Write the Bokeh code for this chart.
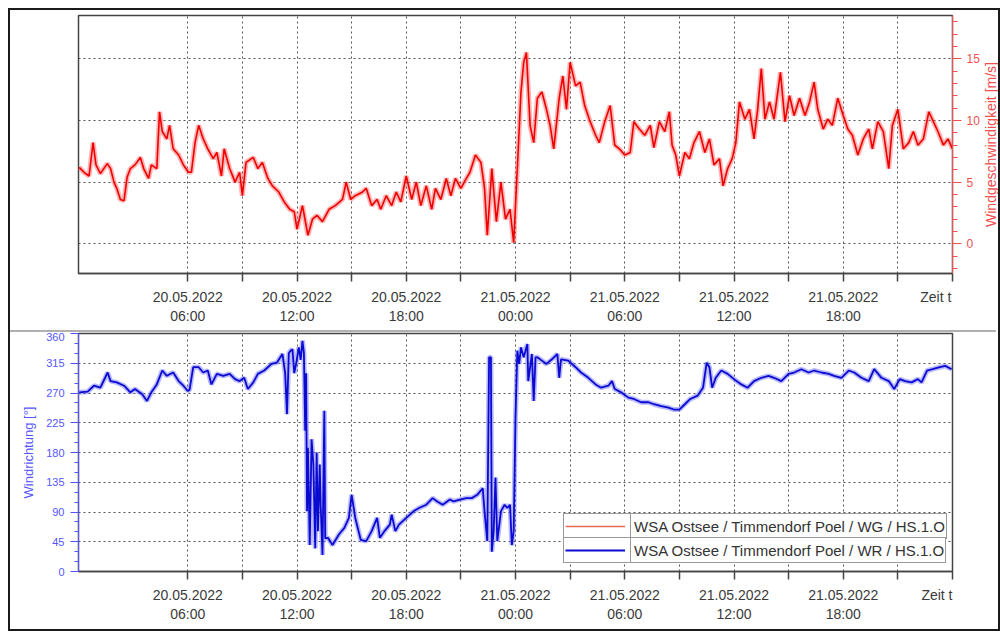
import math
from bokeh.plotting import figure
from bokeh.models import Range1d, FixedTicker, Legend, LegendItem, ColumnDataSource, Div, Label
from bokeh.layouts import column, row
from bokeh.embed import file_html
from bokeh.resources import INLINE

# ---- data (hours since 20.05.2022 00:00) ----
wg_hours = [0.04, 0.3, 0.58, 0.8, 0.96, 1.2, 1.58, 1.76, 1.95, 2.1, 2.3, 2.5, 2.67, 2.85, 3.1, 3.4, 3.58, 3.85,
            4.0, 4.3, 4.45, 4.6, 4.85, 5.0, 5.2, 5.5, 5.76, 6.04, 6.2, 6.4, 6.6, 6.85, 7.1, 7.4, 7.6, 7.85,
            8.0, 8.3, 8.6, 8.85, 9.0, 9.2, 9.6, 9.85, 10.1, 10.4, 10.65, 11.0, 11.3, 11.6, 11.85, 12.0, 12.3,
            12.6, 12.85, 13.1, 13.4, 13.76, 14.1, 14.5, 14.7, 14.95, 15.2, 15.6, 15.8, 16.1, 16.4, 16.6, 16.9,
            17.2, 17.45, 17.7, 18.0, 18.3, 18.55, 18.8, 19.1, 19.4, 19.6, 19.9, 20.2, 20.45, 20.7, 21.0, 21.3,
            21.5, 21.8, 22.1, 22.3, 22.45, 22.7, 22.95, 23.2, 23.45, 23.7, 23.9, 24.1, 24.3, 24.45, 24.6, 24.8,
            25.0, 25.2, 25.45, 25.7, 25.9, 26.1, 26.4, 26.6, 26.8, 27.0, 27.3, 27.55, 27.8, 28.1, 28.4, 28.6,
            28.9, 29.2, 29.45, 29.7, 30.0, 30.3, 30.5, 30.8, 31.1, 31.4, 31.6, 31.9, 32.2, 32.45, 32.6, 32.8,
            33.0, 33.3, 33.55, 33.8, 34.1, 34.4, 34.65, 34.9, 35.2, 35.4, 35.65, 35.9, 36.1, 36.3, 36.6, 36.85,
            37.1, 37.3, 37.5, 37.7, 37.95, 38.2, 38.55, 38.8, 39.05, 39.3, 39.6, 39.9, 40.15, 40.4, 40.6, 40.9,
            41.15, 41.4, 41.7, 42.0, 42.25, 42.5, 42.8, 43.1, 43.4, 43.6, 43.9, 44.2, 44.5, 44.7, 45.0, 45.3,
            45.6, 45.85, 46.1, 46.4, 46.7, 46.95, 47.2, 47.5, 47.75, 48.0]
wg_speed = [6.2, 5.8, 5.5, 8.2, 6.4, 5.7, 6.5, 6.1, 5.0, 4.5, 3.6, 3.5, 5.4, 6.1, 6.4, 7.0, 6.1, 5.3,
            6.4, 6.1, 10.7, 9.1, 8.5, 9.6, 7.7, 7.2, 6.4, 5.8, 5.8, 8.2, 9.6, 8.5, 7.7, 6.9, 7.4, 5.5,
            7.7, 6.1, 5.0, 5.8, 3.9, 6.6, 7.0, 6.1, 6.6, 5.3, 4.7, 4.2, 3.4, 2.8, 2.6, 1.2, 3.1,
            0.7, 2.0, 2.3, 1.8, 2.8, 3.1, 3.6, 5.0, 3.6, 3.9, 4.2, 4.5, 3.1, 3.6, 2.8, 3.9,
            3.1, 4.2, 3.4, 5.5, 3.6, 5.0, 3.1, 4.7, 2.8, 4.5, 3.6, 5.3, 3.9, 5.3, 4.5, 5.3,
            5.8, 7.2, 6.6, 4.5, 0.7, 6.1, 1.8, 5.0, 2.0, 2.8, 0.1, 6.1, 12.3, 14.7, 15.5, 9.6,
            8.2, 11.8, 12.3, 10.9, 9.6, 7.7, 11.8, 13.6, 10.9, 14.7, 12.8, 13.1, 11.2, 9.9, 8.8, 8.2,
            9.9, 11.2, 8.0, 7.7, 7.2, 7.4, 9.9, 9.3, 8.8, 9.6, 7.8, 9.9, 9.1, 10.7, 8.0, 7.2,
            5.5, 7.4, 6.9, 8.2, 9.1, 7.4, 8.5, 6.4, 6.9, 4.7, 6.1, 6.9, 8.2, 11.5, 10.1, 10.9,
            8.5, 10.9, 14.2, 10.1, 11.5, 10.1, 13.9, 9.9, 12.0, 10.4, 11.8, 10.4, 11.5, 13.1, 10.9, 9.3,
            10.1, 9.6, 11.8, 10.4, 9.3, 8.8, 7.2, 8.5, 9.3, 7.7, 9.9, 9.1, 6.1, 9.6, 10.9, 7.7,
            8.2, 9.1, 8.0, 8.5, 10.7, 9.9, 9.1, 8.0, 8.5, 7.7]

wr_hours = [0.04, 0.5, 0.85, 1.2, 1.6, 1.76, 2.1, 2.5, 2.85, 3.1, 3.5, 3.76, 4.0, 4.3, 4.6, 4.85, 5.2, 5.5,
            5.76, 6.0, 6.1, 6.3, 6.6, 6.85, 7.1, 7.3, 7.6, 7.95, 8.3, 8.6, 8.85, 9.1, 9.3, 9.6, 9.85, 10.2,
            10.6, 10.9, 11.2, 11.35, 11.45, 11.55, 11.65, 11.75, 11.85, 11.95, 12.1, 12.2, 12.3, 12.38, 12.45,
            12.5, 12.55, 12.6, 12.7, 12.8, 12.9, 13.0, 13.08, 13.15, 13.25, 13.3, 13.4, 13.5, 13.55, 13.7,
            13.95, 14.3, 14.6, 14.85, 15.0, 15.2, 15.5, 15.8, 16.1, 16.4, 16.55, 16.8, 17.1, 17.2, 17.4, 17.6,
            18.0, 18.4, 18.7, 19.1, 19.45, 19.7, 20.0, 20.4, 20.6, 21.0, 21.3, 21.6, 21.9, 22.2, 22.3, 22.45,
            22.55, 22.65, 22.7, 22.8, 22.9, 23.0, 23.2, 23.4, 23.55, 23.7, 23.8, 23.9, 24.0, 24.1, 24.2, 24.3,
            24.45, 24.65, 24.7, 24.9, 25.0, 25.1, 25.2, 25.45, 25.7, 26.0, 26.3, 26.4, 26.5, 26.9, 27.3, 27.6,
            28.0, 28.4, 28.7, 29.1, 29.3, 29.45, 29.8, 30.2, 30.5, 30.9, 31.3, 31.6, 32.0, 32.4, 32.7, 33.0,
            33.3, 33.6, 34.0, 34.3, 34.5, 34.65, 34.8, 35.0, 35.3, 35.65, 36.0, 36.4, 36.75, 37.1, 37.5, 37.9,
            38.2, 38.6, 39.0, 39.3, 39.7, 40.1, 40.4, 40.8, 41.2, 41.5, 41.9, 42.3, 42.6, 43.0, 43.4, 43.7,
            44.1, 44.5, 44.8, 45.1, 45.4, 45.75, 46.1, 46.3, 46.6, 46.9, 47.3, 47.6, 47.95]
wr_deg = [271, 272, 281, 278, 301, 288, 286, 281, 271, 276, 268, 258, 271, 283, 304, 296, 301, 288,
          281, 273, 275, 309, 309, 301, 304, 283, 299, 296, 299, 291, 288, 293, 276, 286, 299, 304,
          314, 316, 329, 300, 238, 330, 334, 336, 300, 314, 339, 320, 349, 330, 213,
          300, 91, 187, 40, 200, 162, 35, 180, 61, 162, 100, 25, 243, 50, 51,
          40, 56, 66, 81, 116, 81, 48, 46, 61, 81, 51, 61, 71, 86, 61, 71,
          81, 91, 96, 101, 111, 106, 101, 109, 106, 109, 111, 111, 116, 126, 91, 46,
          324, 324, 30, 61, 142, 46, 91, 101, 96, 101, 40, 61, 233, 334, 314, 339,
          324, 344, 288, 329, 258, 324, 324, 319, 314, 321, 329, 293, 321, 319, 309, 301,
          293, 283, 278, 281, 288, 276, 271, 263, 261, 256, 256, 253, 250, 248, 245, 245,
          253, 261, 266, 278, 316, 309, 278, 293, 304, 299, 291, 283, 278, 288, 293, 296,
          293, 288, 299, 301, 306, 301, 304, 301, 299, 296, 293, 304, 301, 293, 288, 306,
          293, 288, 276, 291, 288, 286, 291, 286, 304, 306, 309, 311, 306]

time_ticks = [6, 9, 12, 15, 18, 21, 24, 27, 30, 33, 36, 39, 42, 45, 48]
time_labels = ["20.05.2022\n06:00", "", "20.05.2022\n12:00", "", "20.05.2022\n18:00", "",
               "21.05.2022\n00:00", "", "21.05.2022\n06:00", "", "21.05.2022\n12:00", "",
               "21.05.2022\n18:00", "", "Zeit t" + "\u00a0" * 8]
speed_ticks = [0, 5, 10, 15]
speed_minor = list(range(-2, 19))
dir_ticks = [0, 45, 90, 135, 180, 225, 270, 315, 360]
dir_minor = list(range(0, 361, 15))

speed_title = "Windgeschwindigkeit [m/s]"
dir_title = "Windrichtung [°]"
label_wg = "WSA Ostsee / Timmendorf Poel / WG / HS.1.O"
label_wr = "WSA Ostsee / Timmendorf Poel / WR / HS.1.O"

FONT = "Liberation Sans"
RED = "#ee0000"
RED_HALO = "#ff5a5a"
RED_AX = "#f05050"
BLUE = "#0a0ad0"
BLUE_HALO = "#5050ff"
BLUE_AX = "#5555ff"
overrides = {t: l for t, l in zip(time_ticks, time_labels)}


def style_x(p):
    ax = p.xaxis[0]
    ax.ticker = FixedTicker(ticks=time_ticks, minor_ticks=[])
    ax.major_label_overrides = overrides
    ax.major_tick_out = 8
    ax.major_tick_in = 0
    ax.minor_tick_line_color = None
    ax.axis_line_color = "#444444"
    ax.major_tick_line_color = "#444444"
    ax.major_tick_line_width = 1.5
    ax.axis_line_width = 1.5
    ax.major_label_text_font = FONT
    ax.major_label_text_font_size = "14px"
    ax.major_label_text_color = "#3a3a3a"
    ax.major_label_standoff = 7
    g = p.xgrid[0]
    g.ticker = FixedTicker(ticks=time_ticks)
    g.grid_line_color = "#555555"
    g.grid_line_dash = "2 3"
    g.grid_line_width = 1
    p.ygrid[0].grid_line_color = "#555555"
    p.ygrid[0].grid_line_dash = "2 3"
    p.ygrid[0].grid_line_width = 1
    p.outline_line_color = "#444444"
    p.outline_line_width = 1.5


# ---- top: wind speed ----
speed_range = Range1d(-2.4, 18.5)
time_range = Range1d(0, 48)
p1 = figure(frame_width=874, frame_height=258, x_range=time_range, y_range=speed_range,
            y_axis_location="right", output_backend="svg", toolbar_location=None,
            min_border_left=68, min_border_right=28, min_border_top=5, min_border_bottom=57)
style_x(p1)
ya = p1.yaxis[0]
ya.ticker = FixedTicker(ticks=speed_ticks, minor_ticks=speed_minor)
p1.ygrid[0].ticker = FixedTicker(ticks=speed_ticks)
for a in ("axis_line_color", "major_tick_line_color", "minor_tick_line_color"):
    setattr(ya, a, RED_AX)
ya.major_tick_out = 9
ya.major_tick_in = 0
ya.minor_tick_out = 5
ya.minor_tick_in = 0
ya.major_label_text_color = RED_AX
ya.major_label_text_font = FONT
ya.major_label_text_font_size = "12px"
ya.major_label_standoff = 5

src_wg = ColumnDataSource(dict(x=wg_hours, y=wg_speed))
p1.line("x", "y", source=src_wg, color=RED_HALO, line_width=5, line_alpha=0.45)
p1.line("x", "y", source=src_wg, color=RED, line_width=1.6)

# narrow strip carrying the speed axis title, reading bottom-to-top
p_title = figure(frame_width=16, frame_height=258, x_range=Range1d(0, 1), y_range=Range1d(0, 1),
                 x_axis_location=None, y_axis_location=None, output_backend="svg", toolbar_location=None,
                 min_border_left=0, min_border_right=0, min_border_top=5, min_border_bottom=57)
p_title.grid.visible = False
p_title.outline_line_color = None
p_title.add_layout(Label(x=0.5, y=0.5, text=speed_title, angle=math.pi / 2,
                         text_align="center", text_baseline="middle",
                         text_font=FONT, text_font_size="14px", text_color=RED_AX))

sep = Div(width=986, height=2, margin=0, styles={"background-color": "#b0b0b0"})

# ---- bottom: wind direction ----
p2 = figure(frame_width=874, frame_height=238, x_range=time_range, y_range=Range1d(0, 360),
            output_backend="svg", toolbar_location=None,
            min_border_left=68, min_border_right=44, min_border_top=1, min_border_bottom=58)
style_x(p2)
yb = p2.yaxis[0]
yb.ticker = FixedTicker(ticks=dir_ticks, minor_ticks=dir_minor)
p2.ygrid[0].ticker = FixedTicker(ticks=dir_ticks)
for a in ("axis_line_color", "major_tick_line_color", "minor_tick_line_color"):
    setattr(yb, a, BLUE_AX)
yb.major_tick_out = 8
yb.major_tick_in = 0
yb.minor_tick_out = 4
yb.minor_tick_in = 0
yb.major_label_text_color = BLUE_AX
yb.major_label_text_font = FONT
yb.major_label_text_font_size = "11px"
yb.major_label_standoff = 6
yb.axis_label = dir_title
yb.axis_label_text_color = BLUE_AX
yb.axis_label_text_font = FONT
yb.axis_label_text_font_size = "13px"
yb.axis_label_text_font_style = "normal"
yb.axis_label_standoff = 7

src_wr = ColumnDataSource(dict(x=wr_hours, y=wr_deg))
p2.line("x", "y", source=src_wr, color=BLUE_HALO, line_width=5, line_alpha=0.4)
r_wr = p2.line("x", "y", source=src_wr, color=BLUE, line_width=1.8)

# legend key for the speed series: the WG series on a hidden range of the lower panel
p2.extra_y_ranges = {"hidden": Range1d(1000, 1001)}
r_wg_key = p2.line("x", "y", source=src_wg, y_range_name="hidden", color="#e86a50", line_width=1.5)

legend_style = dict(orientation="vertical", glyph_width=60, glyph_height=22, label_height=22,
                    padding=1, spacing=0, margin=0,
                    border_line_color="#333333", border_line_width=1,
                    label_text_font=FONT, label_text_font_size="15px", label_text_color="#333333",
                    background_fill_color="white", background_fill_alpha=1)
# one boxed legend per row (gives the row divider) ...
p2.add_layout(Legend(items=[LegendItem(label=label_wg, renderers=[r_wg_key])],
                     location=(485, 32), label_standoff=9, **legend_style))
p2.add_layout(Legend(items=[LegendItem(label=label_wr, renderers=[r_wr])],
                     location=(485, 8), label_standoff=9, **legend_style))
# ... and a boxed key cell on top of each row (gives the column divider)
p2.add_layout(Legend(items=[LegendItem(label="\u00a0", renderers=[r_wg_key])],
                     location=(485, 32), label_standoff=0, label_width=0, **legend_style))
p2.add_layout(Legend(items=[LegendItem(label="\u00a0", renderers=[r_wr])],
                     location=(485, 8), label_standoff=0, label_width=0, **legend_style))

top_row = row(p1, p_title, spacing=0)
layout = column(top_row, sep, p2, spacing=0, margin=(8, 0, 0, 8),
                styles={"border": "2px solid #1a1a1a"})

open("out.html", "w").write(file_html(layout, INLINE))
